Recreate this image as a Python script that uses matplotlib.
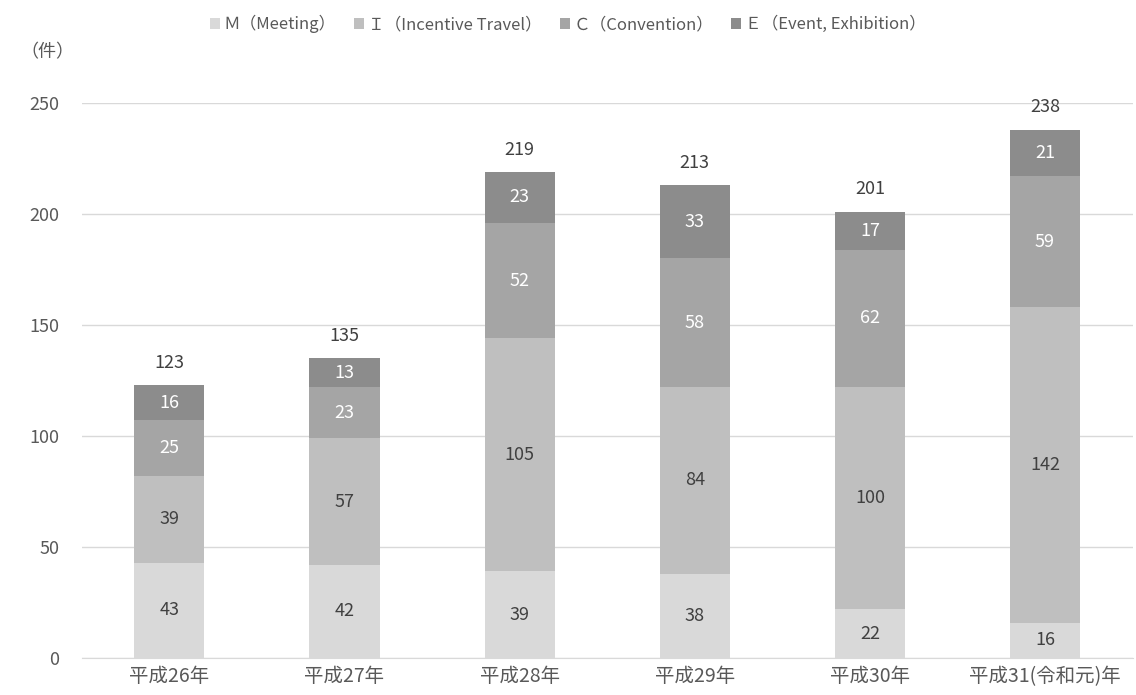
import numpy as np
import matplotlib.pyplot as plt

plt.rcParams['font.family'] = ['Noto Sans CJK JP', 'DejaVu Sans']

# 年度ごとのMICE開催件数
years = ['平成26年', '平成27年', '平成28年', '平成29年', '平成30年', '平成31(令和元)年']
meeting = [43, 42, 39, 38, 22, 16]
incentive = [39, 57, 105, 84, 100, 142]
convention = [25, 23, 52, 58, 62, 59]
event = [16, 13, 23, 33, 17, 21]

series = [
    ('Ｍ（Meeting）', meeting, '#d9d9d9', '#404040'),
    ('Ｉ（Incentive Travel）', incentive, '#bfbfbf', '#404040'),
    ('Ｃ（Convention）', convention, '#a5a5a5', 'white'),
    ('Ｅ（Event, Exhibition）', event, '#8c8c8c', 'white'),
]

fig = plt.figure(figsize=(11.36, 6.95), dpi=100)
ax = fig.add_axes([0.072, 0.0532, 0.925, 0.7986])

x = np.arange(len(years))
bottom = np.zeros(len(years))
for name, vals, color, tcolor in series:
    vals = np.array(vals)
    ax.bar(x, vals, 0.4, bottom=bottom, color=color, label=name, zorder=3)
    for xi, b, v in zip(x, bottom, vals):
        ax.text(xi, b + v / 2, str(v), ha='center', va='center',
                fontsize=13, color=tcolor, zorder=4)
    bottom += vals

# 合計件数を棒の上に表示
for xi, tot in zip(x, bottom):
    ax.text(xi, tot + 6, str(int(tot)), ha='center', va='bottom',
            fontsize=13, color='#404040')

ax.set_xlim(-0.5, len(years) - 0.5)
ax.set_ylim(0, 250)
ax.set_yticks(range(0, 251, 50))
ax.set_xticks(x)
ax.set_xticklabels(years, fontsize=14)
ax.yaxis.grid(True, color='#d9d9d9', linewidth=1, zorder=0)
for s in ['top', 'right', 'left']:
    ax.spines[s].set_visible(False)
ax.spines['bottom'].set_color('#d9d9d9')
ax.tick_params(axis='both', length=0, colors='#595959')
ax.tick_params(axis='y', pad=16, labelsize=13)
ax.tick_params(axis='x', pad=6)

fig.text(0.018, 0.925, '（件）', fontsize=13, color='#595959', ha='left', va='center')

fig.legend(loc='upper center', bbox_to_anchor=(0.5, 1.0), ncol=4, frameon=False,
           fontsize=12, handlelength=0.6, handleheight=0.6, handletextpad=0.2,
           columnspacing=1.1, labelcolor='#595959')

fig.savefig('out.png', dpi=100)
